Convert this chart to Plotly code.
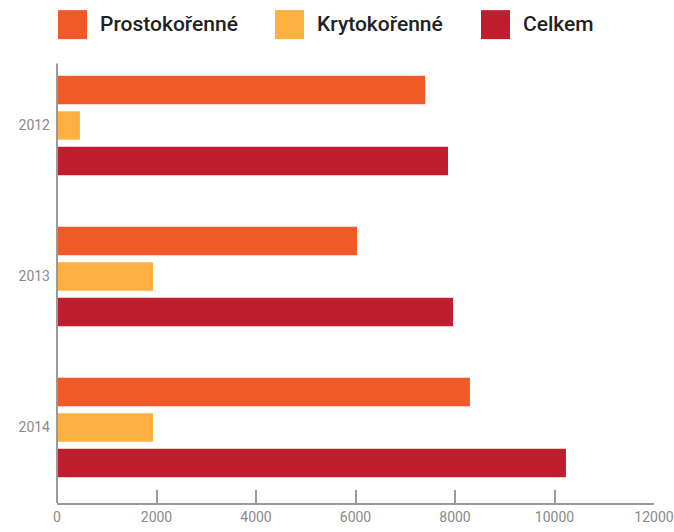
import plotly.graph_objects as go

# Data
YEARS = ["2012", "2013", "2014"]
PROSTOKORENNE = [7400, 6030, 8300]
KRYTOKORENNE = [460, 1930, 1930]
CELKEM = [7860, 7960, 10230]

SERIES = ["Prostokořenné", "Krytokořenné", "Celkem"]
COLORS = ["#F05A28", "#FBB040", "#BE1E2D"]
TICK_FONT = "Roboto, sans-serif"
LEGEND_FONT = "Roboto, sans-serif"
AXIS_GRAY = "#9a9a9a"

fig = go.Figure()
for name, vals, color in zip(SERIES, [PROSTOKORENNE, KRYTOKORENNE, CELKEM], COLORS):
    fig.add_trace(
        go.Bar(
            y=YEARS,
            x=vals,
            name=name,
            orientation="h",
            marker=dict(color=color, line=dict(width=0)),
            showlegend=False,
        )
    )

# Custom legend: big squares + labels
legend_x = [0.0, 0.3635, 0.7085]
for i, (name, color) in enumerate(zip(SERIES, COLORS)):
    x0 = legend_x[i]
    fig.add_shape(
        type="rect",
        xref="paper",
        yref="paper",
        x0=x0 + 0.0017,
        x1=x0 + 0.0503,
        y0=1.024,
        y1=1.088,
        fillcolor=color,
        line=dict(width=0),
    )
    fig.add_annotation(
        x=x0 + 0.069,
        y=1.057,
        xref="paper",
        yref="paper",
        text=name,
        showarrow=False,
        xanchor="left",
        yanchor="middle",
        font=dict(size=21, color="#222222", family=LEGEND_FONT, weight=500),
    )

# Left axis line (starts a bit below the top of the plot)
fig.add_shape(
    type="line",
    xref="paper",
    yref="paper",
    x0=0,
    x1=0,
    y0=0,
    y1=0.97,
    line=dict(color=AXIS_GRAY, width=2),
)

fig.update_layout(
    width=674,
    height=532,
    margin=dict(l=57, r=20, t=50, b=29),
    plot_bgcolor="white",
    paper_bgcolor="white",
    barmode="group",
    bargap=0.295,
    bargroupgap=0.2,
    font=dict(family=TICK_FONT, color="#8a8a8a", size=14),
)
fig.update_xaxes(
    range=[0, 12000],
    dtick=2000,
    tickformat="d",
    automargin=False,
    showgrid=False,
    zeroline=False,
    showline=True,
    linecolor=AXIS_GRAY,
    linewidth=2,
    ticks="inside",
    ticklen=13,
    tickwidth=1.5,
    tickcolor=AXIS_GRAY,
    tickfont=dict(size=14, color="#8a8a8a"),
)
fig.update_yaxes(
    autorange="reversed",
    automargin=False,
    showgrid=False,
    zeroline=False,
    showline=False,
    ticks="",
    ticklabelstandoff=6,
    tickfont=dict(size=14, color="#8a8a8a"),
)

# drop the default 8px page margin (and scrollbars) so the figure fills the window
fig.write_html(
    "out.html",
    config={"displayModeBar": False},
    post_script="document.body.style.margin='0';document.body.style.overflow='hidden';",
)
